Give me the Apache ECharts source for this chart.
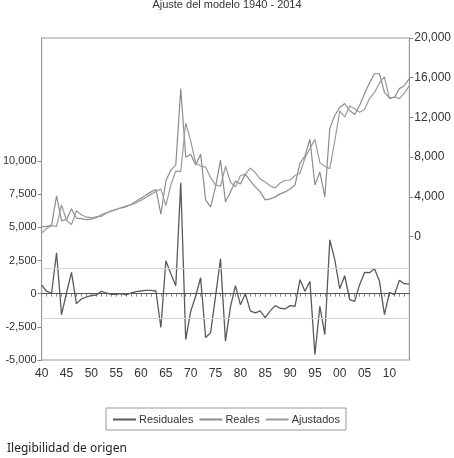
<!DOCTYPE html>
<html>
<head>
<meta charset="utf-8">
<script src="https://cdn.jsdelivr.net/npm/echarts@6/dist/echarts.min.js"></script>
<style>
  html, body { margin: 0; padding: 0; background: #fff; }
  #chart { width: 454px; height: 458px; }
</style>
</head>
<body>
<div id="chart"></div>
<script>
// años 1940 - 2014
const years = ['1940','1941','1942','1943','1944','1945','1946','1947','1948','1949',
  '1950','1951','1952','1953','1954','1955','1956','1957','1958','1959',
  '1960','1961','1962','1963','1964','1965','1966','1967','1968','1969',
  '1970','1971','1972','1973','1974','1975','1976','1977','1978','1979',
  '1980','1981','1982','1983','1984','1985','1986','1987','1988','1989',
  '1990','1991','1992','1993','1994','1995','1996','1997','1998','1999',
  '2000','2001','2002','2003','2004','2005','2006','2007','2008','2009',
  '2010','2011','2012','2013','2014'];

const reales = [1000,1000,1150,4100,1600,1700,2800,1850,1800,1700,
  1750,1900,2200,2400,2550,2700,2900,3000,3250,3550,
  3850,4200,4500,4750,2250,5600,6700,7200,14900,8000,
  8300,7200,8300,3700,3000,5000,7700,3500,4500,5600,
  5300,6300,5600,5000,4500,3700,3800,4000,4300,4500,
  4800,5200,7400,8100,9800,5200,6500,4000,10900,12200,
  13000,13400,12700,12300,13200,14400,15500,16400,16400,14500,
  14000,14000,14900,15200,15900];

const ajustados = [350,820,1100,1020,3180,1650,1200,2600,2200,1950,
  1900,2000,2020,2350,2600,2750,2900,3100,3200,3400,
  3650,3950,4250,4550,4800,3120,5200,6600,6550,11460,
  9630,7400,7100,7000,5950,5200,5070,7080,5500,5000,
  6130,6300,6900,6450,5800,5500,5100,4900,5400,5650,
  5700,6150,6350,7920,8870,9790,7450,7080,6840,9640,
  12630,12050,13150,12880,12520,12800,13920,14520,15470,16080,
  13900,14080,13900,14450,15180];

const residuales = [650,180,50,3080,-1580,50,1600,-750,-400,-250,
  -150,-100,180,50,-50,-50,0,-100,50,150,
  200,250,250,200,-2550,2480,1500,600,8350,-3460,
  -1330,-200,1200,-3300,-2950,-200,2630,-3580,-1000,600,
  -830,0,-1300,-1450,-1300,-1800,-1300,-900,-1100,-1150,
  -900,-950,1050,180,930,-4590,-950,-3080,4060,2560,
  370,1350,-450,-580,680,1600,1580,1880,930,-1580,
  100,-80,1000,750,720];

const leftTicks = [-5000, -2500, 0, 2500, 5000, 7500, 10000];
const rightTicks = [0, 4000, 8000, 12000, 16000, 20000];
const bandaSE = 1880;

const narrow = '"Liberation Sans Narrow", "Liberation Sans", Arial, sans-serif';

let myChart = echarts.init(document.getElementById('chart'));

myChart.setOption({
  backgroundColor: '#fff',
  animation: false,
  title: [{
    text: 'Ajuste del modelo 1940 - 2014',
    left: 'center',
    top: -6,
    textStyle: { color: '#333', fontSize: 11, fontWeight: 'normal', fontFamily: narrow }
  }, {
    text: 'Ilegibilidad de origen',
    left: 2,
    top: 438,
    textStyle: { color: '#222', fontSize: 12, fontWeight: 'normal', fontFamily: '"Noto Sans", "Open Sans", sans-serif' }
  }],
  grid: {
    left: 39, right: 43, top: 38, bottom: 98,
    show: true,
    borderColor: '#999',
    borderWidth: 1
  },
  legend: {
    left: 106,
    top: 408,
    data: ['Residuales', 'Reales', 'Ajustados'],
    itemWidth: 23,
    itemHeight: 2,
    itemGap: 5,
    padding: [6, 6, 5, 6],
    borderColor: '#999',
    borderWidth: 1,
    textStyle: { color: '#333', fontSize: 11, fontFamily: narrow, padding: [0, 0, 0, -2] }
  },
  xAxis: {
    type: 'category',
    data: years,
    boundaryGap: false,
    axisLine: { lineStyle: { color: '#999' } },
    axisTick: { interval: 0, length: 3, lineStyle: { color: '#888' } },
    axisLabel: {
      interval: 4,
      margin: 8,
      color: '#333',
      fontSize: 12,
      fontFamily: narrow,
      formatter: function (v) { return v.slice(2); }
    },
    splitLine: { show: false }
  },
  yAxis: [{
    type: 'value',
    position: 'left',
    min: -5000,
    max: 19270,
    axisLine: { show: true, lineStyle: { color: '#999' } },
    axisTick: { show: true, length: 4, customValues: leftTicks, lineStyle: { color: '#888' } },
    axisLabel: { customValues: leftTicks, margin: 5, color: '#333', fontSize: 11, fontFamily: narrow },
    splitLine: { show: false }
  }, {
    type: 'value',
    position: 'right',
    min: -12430,
    max: 20000,
    axisLine: { show: true, lineStyle: { color: '#999' } },
    axisTick: { show: true, length: 4, customValues: rightTicks, lineStyle: { color: '#888' } },
    axisLabel: { customValues: rightTicks, margin: 5, color: '#333', fontSize: 12, fontFamily: narrow },
    splitLine: { show: false }
  }],
  series: [{
    name: 'Residuales',
    type: 'line',
    yAxisIndex: 0,
    data: residuales,
    symbol: 'none',
    color: '#5a5a5a',
    lineStyle: { color: '#5a5a5a', width: 1.3 },
    z: 3,
    markLine: {
      silent: true,
      symbol: 'none',
      label: { show: false },
      animation: false,
      data: [
        { yAxis: 0, lineStyle: { color: '#555', width: 1, type: 'solid' } },
        { yAxis: bandaSE, lineStyle: { color: '#d4d4d4', width: 1, type: 'solid' } },
        { yAxis: -bandaSE, lineStyle: { color: '#d4d4d4', width: 1, type: 'solid' } }
      ]
    }
  }, {
    name: 'Reales',
    type: 'line',
    yAxisIndex: 1,
    data: reales,
    symbol: 'none',
    color: '#8c8c8c',
    lineStyle: { color: '#8c8c8c', width: 1.2 }
  }, {
    name: 'Ajustados',
    type: 'line',
    yAxisIndex: 1,
    data: ajustados,
    symbol: 'none',
    color: '#9a9a9a',
    lineStyle: { color: '#9a9a9a', width: 1.2 }
  }]
});
</script>
</body>
</html>
